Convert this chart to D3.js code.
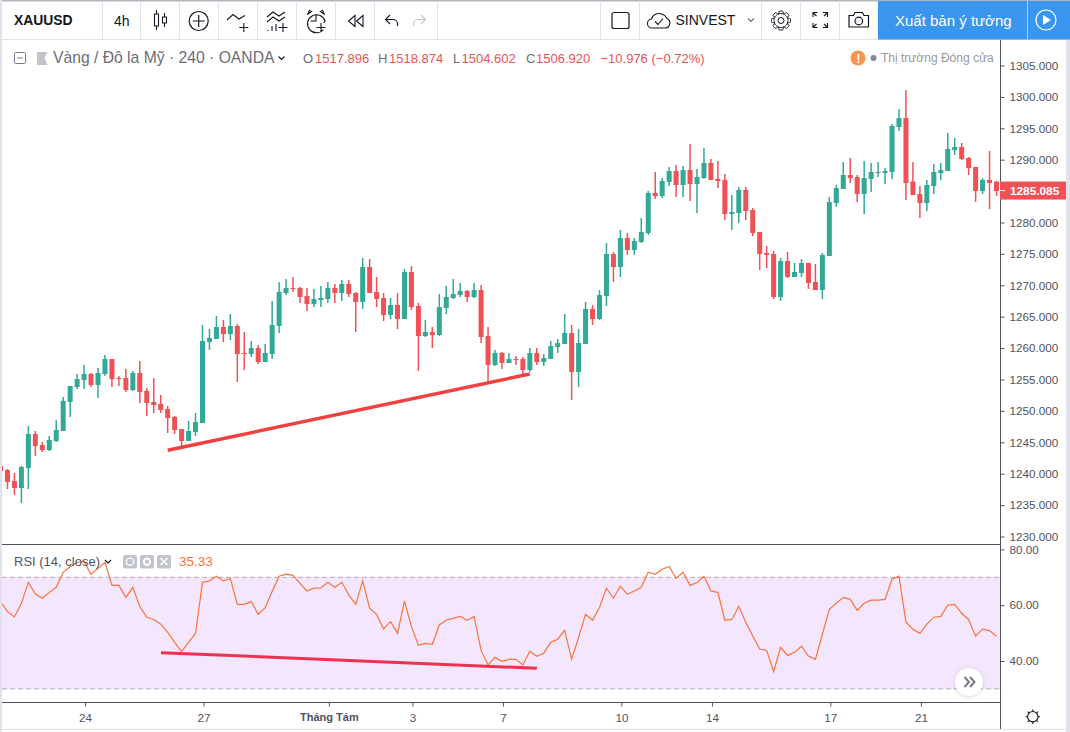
<!DOCTYPE html>
<html>
<head>
<meta charset="utf-8">
<title>XAUUSD</title>
<script src="https://cdn.jsdelivr.net/npm/d3@7"></script>
<style>
  html, body { margin: 0; padding: 0; background: #fff; overflow: hidden; }
  svg { display: block; font-family: "Liberation Sans", Arial, sans-serif; }
</style>
</head>
<body>
<svg id="chart" width="1070" height="732"></svg>
<script>
// candles, one per 4h bar, left to right
const opens = [
  1241.23,1240.59,1238.84,1237.72,1240.91,1246.32,1244.57,1243.77,1245.21,1246.80,
  1251.42,1253.81,1254.92,1255.88,1254.12,1255.88,1258.26,1255.24,1255.24,1253.33,
  1256.04,1253.17,1251.42,1251.10,1250.30,1249.03,1247.12,1245.21,1246.64,1248.07,
  1260.97,1261.45,1263.36,1262.24,1263.52,1259.22,1259.06,1260.01,1257.79,1259.06,
  1263.52,1268.77,1269.57,1269.57,1268.30,1267.02,1267.66,1267.82,1269.57,1268.77,
  1270.21,1268.77,1267.34,1272.91,1268.93,1267.98,1265.27,1266.86,1264.63,1272.12,
  1266.70,1261.93,1262.56,1262.08,1266.38,1267.98,1268.45,1269.09,1268.14,1269.25,
  1261.93,1257.31,1259.22,1257.63,1258.26,1258.26,1256.51,1259.22,1257.79,1258.26,
  1260.17,1260.65,1262.40,1256.19,1260.65,1266.23,1264.63,1268.30,1274.98,1272.91,
  1277.53,1275.62,1276.90,1278.33,1284.70,1284.22,1286.45,1288.20,1285.97,1288.36,
  1286.13,1287.09,1289.48,1286.93,1286.77,1281.35,1281.51,1285.18,1281.99,1278.49,
  1275.14,1274.98,1268.14,1273.87,1271.32,1271.96,1273.55,1270.52,1269.25,1274.66,
  1283.10,1285.33,1287.56,1287.24,1284.54,1286.93,1287.88,1287.88,1288.04,1295.21,
  1296.64,1286.52,1284.54,1283.10,1285.81,1287.88,1288.20,1291.54,1292.02,1290.27,
  1288.84,1285.01,1286.77,1286.52];
const highs = [
  1241.30,1240.75,1240.11,1241.23,1247.60,1246.80,1245.05,1246.00,1248.55,1252.21,
  1253.97,1255.88,1257.31,1256.04,1256.83,1258.90,1258.26,1255.56,1256.67,1256.35,
  1257.95,1253.65,1255.24,1252.53,1250.78,1249.19,1247.12,1248.39,1249.67,1263.68,
  1263.04,1265.11,1264.47,1265.43,1263.84,1262.56,1261.13,1260.49,1260.65,1267.50,
  1270.52,1271.00,1271.32,1269.73,1269.57,1269.41,1269.89,1270.52,1270.21,1270.84,
  1270.84,1268.93,1274.35,1274.19,1271.32,1268.77,1267.98,1268.77,1272.59,1273.07,
  1267.18,1264.47,1263.36,1268.61,1269.89,1271.00,1270.37,1269.25,1270.37,1270.05,
  1263.36,1259.70,1259.38,1259.22,1258.74,1258.58,1260.01,1260.01,1259.06,1261.13,
  1261.45,1265.43,1263.68,1263.04,1267.34,1266.86,1269.25,1276.74,1275.30,1278.81,
  1278.33,1277.53,1280.72,1285.02,1288.04,1287.09,1288.84,1289.16,1289.00,1292.50,
  1288.52,1291.86,1290.11,1289.79,1287.72,1284.38,1285.65,1285.65,1282.31,1278.49,
  1276.26,1275.46,1274.35,1275.30,1273.55,1274.19,1273.55,1273.39,1275.14,1284.06,
  1285.97,1289.63,1290.27,1287.56,1289.79,1289.47,1289.63,1288.68,1295.68,1298.07,
  1301.10,1289.63,1285.81,1286.77,1289.31,1289.47,1294.25,1293.45,1292.66,1290.43,
  1288.84,1287.08,1291.38,1286.61];
const lows = [
  1240.40,1237.56,1236.61,1235.33,1237.56,1242.82,1243.46,1243.61,1245.05,1246.80,
  1249.03,1253.49,1253.49,1253.81,1252.05,1255.56,1253.81,1253.97,1253.01,1253.17,
  1251.26,1249.19,1249.67,1249.67,1246.48,1246.32,1243.93,1245.21,1246.00,1248.07,
  1259.70,1261.45,1260.97,1261.29,1254.60,1256.51,1258.58,1257.47,1257.79,1258.26,
  1262.40,1268.45,1268.93,1267.18,1265.91,1266.54,1266.54,1267.18,1267.18,1267.50,
  1268.14,1262.56,1266.23,1268.77,1266.54,1264.31,1264.63,1263.04,1264.63,1266.07,
  1256.35,1261.77,1260.01,1261.93,1265.43,1267.82,1268.14,1267.34,1267.98,1260.81,
  1254.60,1257.15,1256.67,1257.63,1257.31,1255.72,1256.19,1257.31,1257.15,1258.26,
  1259.22,1260.65,1251.73,1253.80,1260.65,1263.68,1264.47,1266.70,1270.53,1271.32,
  1274.83,1274.83,1276.74,1278.01,1283.74,1283.90,1285.81,1284.06,1284.06,1283.42,
  1281.51,1286.93,1286.77,1285.49,1280.40,1278.81,1279.92,1280.40,1277.85,1272.44,
  1272.76,1267.82,1267.50,1271.16,1271.32,1271.32,1269.41,1269.25,1267.82,1274.66,
  1282.47,1285.33,1286.29,1283.26,1281.35,1284.86,1287.24,1286.13,1286.93,1294.57,
  1283.58,1284.38,1280.72,1281.83,1284.54,1286.77,1288.20,1290.75,1289.95,1287.56,
  1283.26,1284.54,1282.15,1284.22];
const closes = [
  1240.43,1238.68,1237.72,1241.07,1246.32,1244.41,1243.77,1245.37,1246.96,1251.58,
  1253.97,1255.08,1255.88,1254.12,1256.04,1258.26,1255.08,1255.08,1253.33,1256.04,
  1253.01,1251.26,1250.94,1250.14,1248.87,1246.96,1245.21,1246.80,1248.23,1261.13,
  1261.61,1263.36,1262.24,1263.52,1259.06,1259.06,1260.01,1257.79,1259.22,1263.68,
  1268.93,1269.57,1269.41,1268.14,1267.02,1267.82,1267.98,1269.57,1268.77,1270.21,
  1268.61,1267.34,1272.91,1268.77,1267.82,1265.27,1266.86,1264.63,1272.12,1266.54,
  1261.93,1262.56,1262.08,1266.54,1268.14,1268.61,1269.09,1268.14,1269.25,1261.77,
  1257.31,1259.22,1257.63,1258.26,1258.20,1256.51,1259.22,1257.79,1258.42,1260.33,
  1260.81,1262.40,1256.19,1260.81,1266.23,1264.63,1268.45,1274.98,1272.91,1277.53,
  1275.62,1277.05,1278.49,1284.70,1284.22,1286.61,1288.20,1285.97,1288.36,1286.13,
  1287.25,1289.48,1286.77,1286.61,1281.35,1281.67,1285.18,1281.83,1278.33,1274.98,
  1274.83,1268.14,1273.87,1271.32,1272.12,1273.55,1270.37,1269.25,1274.82,1283.26,
  1285.49,1287.56,1287.08,1284.54,1287.08,1288.04,1288.04,1288.20,1295.37,1296.64,
  1286.29,1284.38,1283.10,1285.97,1288.04,1288.36,1291.70,1292.02,1290.11,1288.68,
  1285.01,1286.77,1286.29,1285.01];

// RSI (14, close), one value per bar
const rsiValues = [
  61.3,57.7,55.8,60.7,68.2,64.0,62.5,64.6,66.4,71.8,
  73.8,75.4,75.6,71.1,73.2,75.4,67.1,67.1,62.8,66.4,
  59.5,55.7,54.9,53.2,50.3,46.7,43.4,46.7,49.9,68.2,
  68.7,70.4,68.7,69.6,60.3,60.3,61.3,56.7,59.1,64.9,
  70.4,71.1,70.7,67.8,65.1,66.1,66.2,68.2,66.4,68.2,
  63.7,60.3,68.7,58.9,56.7,51.5,54.1,49.9,61.5,52.3,
  45.6,46.3,46.0,52.9,54.6,55.3,56.0,54.6,56.0,43.8,
  38.6,41.3,39.9,40.6,40.6,38.6,43.5,41.7,42.8,46.7,
  47.8,51.0,40.6,48.5,56.7,54.6,59.2,66.1,62.5,66.8,
  63.9,65.1,66.4,71.8,71.1,72.9,73.9,69.6,71.8,67.1,
  68.1,70.4,65.1,64.6,54.6,54.9,59.6,53.9,49.0,44.3,
  43.8,36.2,44.9,42.0,43.1,45.3,41.8,40.6,49.6,58.5,
  60.7,62.8,62.1,58.2,60.7,61.8,61.8,62.1,69.3,70.4,
  53.9,51.4,49.9,53.2,55.7,56.0,60.0,60.3,57.1,54.9,
  48.9,51.4,50.9,48.9];

const priceTicks = [1305,1300,1295,1290,1280,1275,1270,1265,1260,1255,1250,1245,1240,1235,1230];
const rsiTicks = [80,60,40];
const rsiBands = [70,30];
const timeBars = [12,29,47,59,72,89,102,119,132];
const timeLabels = ["24","27","Tháng Tám","3","7","10","14","17","21"];

// hand drawn trend lines, [bar, value]
const priceTrend = [[24,1243.73],[76,1255.88]];
const rsiTrend = [[23.04,43.0],[77,37.4]];

const lastPrice = 1285.085;
const lastPriceLabel = "1285.085";
const rsiLabel = "35.33";

const upColor = "#32a897", downColor = "#ef5155";
const textColor = "#131722", axisColor = "#50535e", sepColor = "#e0e3eb";
const rsiColor = "#f9743c", bandColor = "#f4e6fc";

const svg = d3.select("#chart");

const x = d3.scaleLinear().domain([0,143]).range([0.5,996.5]);
const yPrice = d3.scaleLinear().domain([1305,1230]).range([65.5,536.5]);
const yRsi = d3.scaleLinear().domain([70,30]).range([577.3,688.9]);

svg.append("clipPath").attr("id","clipMain").append("rect").attr("x",2).attr("y",40).attr("width",998).attr("height",504);
svg.append("clipPath").attr("id","clipRsi").append("rect").attr("x",2).attr("y",545).attr("width",998).attr("height",157);

// ---- main pane ----
const candles = svg.append("g").attr("clip-path","url(#clipMain)");
const bars = d3.range(opens.length);
const barColor = function(i){ return closes[i] >= opens[i] ? upColor : downColor; };

candles.selectAll("line.wick").data(bars).enter().append("line")
  .attr("class","wick")
  .attr("x1",function(i){ return x(i); })
  .attr("x2",function(i){ return x(i); })
  .attr("y1",function(i){ return yPrice(highs[i]); })
  .attr("y2",function(i){ return yPrice(lows[i]); })
  .attr("stroke",barColor)
  .attr("stroke-width",1.5);

candles.selectAll("rect.body").data(bars).enter().append("rect")
  .attr("class","body")
  .attr("x",function(i){ return x(i)-2.5; })
  .attr("width",5)
  .attr("y",function(i){ return yPrice(Math.max(opens[i],closes[i])); })
  .attr("height",function(i){ return Math.max(1,Math.abs(yPrice(opens[i])-yPrice(closes[i]))); })
  .attr("fill",barColor);

candles.append("line")
  .attr("x1",x(priceTrend[0][0])).attr("y1",yPrice(priceTrend[0][1]))
  .attr("x2",x(priceTrend[1][0])).attr("y2",yPrice(priceTrend[1][1]))
  .attr("stroke","#f23f3f").attr("stroke-width",3.4);

// ---- rsi pane ----
const rsiPane = svg.append("g").attr("clip-path","url(#clipRsi)");
rsiPane.append("rect")
  .attr("x",2).attr("width",998)
  .attr("y",yRsi(rsiBands[0]))
  .attr("height",yRsi(rsiBands[1])-yRsi(rsiBands[0]))
  .attr("fill",bandColor);
rsiPane.selectAll("line.band").data(rsiBands).enter().append("line")
  .attr("x1",2).attr("x2",1000)
  .attr("y1",function(d){ return yRsi(d); })
  .attr("y2",function(d){ return yRsi(d); })
  .attr("stroke","#b5a9bc").attr("stroke-dasharray","5,3");
rsiPane.append("path")
  .attr("d",d3.line().x(function(d,i){ return x(i); }).y(function(d){ return yRsi(d); })(rsiValues))
  .attr("fill","none").attr("stroke",rsiColor).attr("stroke-width",1.2);
rsiPane.append("line")
  .attr("x1",x(rsiTrend[0][0])).attr("y1",yRsi(rsiTrend[0][1]))
  .attr("x2",x(rsiTrend[1][0])).attr("y2",yRsi(rsiTrend[1][1]))
  .attr("stroke","#ea3350").attr("stroke-width",3);

// ---- axes ----
function styleAxis(g){
  g.select(".domain").remove();
  g.selectAll(".tick line").attr("stroke",axisColor);
  g.selectAll(".tick text").attr("fill",axisColor).style("font-size","11.7px").style("font-family","Liberation Sans, Arial, sans-serif");
}
svg.append("g").attr("transform","translate(1000.5,0)")
  .call(d3.axisRight(yPrice).tickValues(priceTicks).tickFormat(d3.format(".3f")).tickSize(4).tickPadding(5))
  .call(styleAxis);
svg.append("g").attr("transform","translate(1000.5,0)")
  .call(d3.axisRight(yRsi).tickValues(rsiTicks).tickFormat(d3.format(".2f")).tickSize(4).tickPadding(5))
  .call(styleAxis);
const timeAxis = svg.append("g").attr("transform","translate(1,702.5)")
  .call(d3.axisBottom(x).tickValues(timeBars).tickFormat(function(d,i){ return timeLabels[i]; }).tickSize(4).tickPadding(7))
  .call(styleAxis);
timeAxis.selectAll(".tick text").style("font-weight",function(d,i){ return timeLabels[i]=="Tháng Tám" ? "bold" : "normal"; })
  .style("font-size",function(d,i){ return timeLabels[i]=="Tháng Tám" ? "11px" : "11.7px"; });

// pane frame lines
svg.append("line").attr("x1",0).attr("x2",1000).attr("y1",544.5).attr("y2",544.5).attr("stroke",axisColor);
svg.append("line").attr("x1",0).attr("x2",1000).attr("y1",702.5).attr("y2",702.5).attr("stroke",axisColor);
svg.append("line").attr("x1",1000.5).attr("x2",1000.5).attr("y1",40).attr("y2",729).attr("stroke",axisColor);

// last price tag
const tagY = yPrice(lastPrice);
svg.append("rect").attr("x",1000).attr("y",tagY-9).attr("width",66).attr("height",18).attr("fill",downColor);
svg.append("line").attr("x1",1000).attr("x2",1005).attr("y1",tagY).attr("y2",tagY).attr("stroke","#fff");
svg.append("text").attr("x",1010).attr("y",tagY+4.5).attr("fill","#fff").style("font-size","11.8px").style("font-weight","bold").text(lastPriceLabel);

// ---- toolbar and page chrome ----
svg.append("rect").attr("x",0).attr("y",0).attr("width",1070).attr("height",1.5).attr("fill","#b2b5be");
svg.append("line").attr("x1",0).attr("x2",1070).attr("y1",39.5).attr("y2",39.5).attr("stroke",sepColor);
svg.append("rect").attr("x",0).attr("y",0).attr("width",2).attr("height",732).attr("fill",sepColor);
svg.append("rect").attr("x",1066).attr("y",40).attr("width",4).attr("height",692).attr("fill",sepColor);
svg.append("line").attr("x1",0).attr("x2",1066).attr("y1",729.5).attr("y2",729.5).attr("stroke",sepColor);

const separators = [102.5,140.5,179.5,218.5,257.5,296.5,335.5,374.5,437.5,600.5,639.5,761.5,800.5,839.5];
svg.selectAll("line.sep").data(separators).enter().append("line")
  .attr("x1",function(d){ return d; }).attr("x2",function(d){ return d; })
  .attr("y1",1).attr("y2",39).attr("stroke",sepColor);

svg.append("rect").attr("x",878).attr("y",1).attr("width",192).attr("height",38.5).attr("fill","#3a95ee");
svg.append("line").attr("x1",1027.5).attr("x2",1027.5).attr("y1",1).attr("y2",39).attr("stroke","#a8d0f7");

function label(txt,px,py,size,color,weight){
  return svg.append("text").attr("x",px).attr("y",py).attr("fill",color)
    .style("font-size",size+"px").style("font-weight",weight||"normal").text(txt);
}
function icon(d,color,sw){
  return svg.append("path").attr("d",d).attr("fill","none")
    .attr("stroke",color||textColor).attr("stroke-width",sw||1.1);
}

label("XAUUSD",14,25,13.9,textColor,"bold");
label("4h",114,25.5,14,textColor);
label("SINVEST",675.5,25,14,textColor);
label("Xuất bản ý tưởng",895,26,15,"#fff");

// candle type
icon("M156.5 10V14M156.5 26V30M154.5 14H158.5V26H154.5ZM164.5 13V17M164.5 23V27M162.5 17H166.5V23H162.5Z");
// add symbol
icon("M208.2 21a9.5 9.5 0 1 1-19 0a9.5 9.5 0 1 1 19 0M198.7 15V27M192.7 21H204.7",textColor,1.2);
// indicators
icon("M227 20L233 14.5L239 19L245 15.5M243.8 23V32M239.3 27.5H248.3");
icon("M267 17L273 12L279 16L285 12M267 22L273 17L279 21L285 17M283 23V32M278.5 27.5H287.5M268 30V31M272 26V31M276 24V31");
// alarm
icon("M323.5 29.5A9 9 0 1 1 325 20.7A9 9 0 0 1 323.5 23M316 15V21H310.5M307.5 14.5L311.5 11.5L309.5 10.5Z M324.5 14.5L320.5 11.5L322.5 10.5ZM321 23V32M316.5 27.5H325.5");
// rewind
icon("M355 15.5L348.5 21L355 26.5ZM363 15.5L356.5 21L363 26.5Z");
// undo, redo
icon("M390 15L385.5 19.5L390 24M385.5 19.5H393A4.5 4.5 0 0 1 397.5 24V26");
icon("M421 15L425.5 19.5L421 24M425.5 19.5H418A4.5 4.5 0 0 0 413.5 24V26","#c1c4cd");
// layout square
svg.append("rect").attr("x",612).attr("y",12.5).attr("width",17).attr("height",16).attr("rx",2).attr("fill","none").attr("stroke",textColor).attr("stroke-width",1.2);
// cloud
icon("M652.5 28H665.5A5 5 0 0 0 667 18.5A9 9 0 0 0 655 14.5A7 7 0 0 0 651.5 19A4.5 4.5 0 0 0 652.5 28ZM655 21.5L658 24.5L663 18.5");
icon("M748 18.5L751 21.5L754 18.5","#6a6d78");
// settings gear
const gearAngles = d3.range(0,360,45);
svg.selectAll("rect.cog").data(gearAngles).enter().append("rect")
  .attr("class","cog").attr("x",778.8).attr("y",11).attr("width",4.4).attr("height",3.5).attr("rx",1)
  .attr("transform",function(d){ return "rotate("+d+" 781 20.5)"; })
  .attr("fill","#fff").attr("stroke",textColor).attr("stroke-width",0.9);
svg.append("circle").attr("cx",781).attr("cy",20.5).attr("r",7).attr("fill","#fff").attr("stroke","none");
svg.append("path").attr("d",d3.arc()({innerRadius:7,outerRadius:7,startAngle:0,endAngle:6.29})).attr("transform","translate(781,20.5)").attr("fill","none").attr("stroke",textColor).attr("stroke-width",0.9).attr("stroke-dasharray","3,2.5");
svg.append("circle").attr("cx",781).attr("cy",20.5).attr("r",3).attr("fill","#fff").attr("stroke",textColor).attr("stroke-width",1);
// fullscreen
icon("M813 17V12.5H817.5M823 12.5H827.5V17M813 23V27.5H817.5M823 27.5H827.5V23M813 12.5L816.5 16M827.5 12.5L824 16M813 27.5L816.5 24M827.5 27.5L824 24");
// camera
icon("M849 15.5H853.5L855 12.5H862.5L864 15.5H868.5V27H849Z",textColor,1.2);
svg.append("circle").attr("cx",858.8).attr("cy",21).attr("r",3.8).attr("fill","none").attr("stroke",textColor).attr("stroke-width",1.2);
// replay button
svg.append("circle").attr("cx",1046).attr("cy",20).attr("r",10).attr("fill","none").attr("stroke","#fff").attr("stroke-width",1.2);
svg.append("path").attr("d","M1043 15L1051 20L1043 25Z").attr("fill","#fff");

// legend row
svg.append("rect").attr("x",14.5).attr("y",52.5).attr("width",11).attr("height",11).attr("rx",1).attr("fill","none").attr("stroke","#787b86");
svg.append("line").attr("x1",17).attr("x2",23).attr("y1",58).attr("y2",58).attr("stroke","#787b86");
svg.append("path").attr("d","M37 52H47.5L44.5 58L47.5 65H37Z").attr("fill","#c1c4cd");
label("Vàng / Đô la Mỹ · 240 · OANDA",53,63,15.7,"#6a6d78");
icon("M278.5 56.5L281.5 59.5L284.5 56.5",textColor,1.1);

const ohlcLabels = [["O",303,"1517.896",315],["H",378,"1518.874",389],["L",453,"1504.602",461.5],["C",526,"1506.920",536]];
ohlcLabels.forEach(function(d){
  label(d[0],d[1],63,13,"#6a6d78");
  label(d[2],d[3],63,13,downColor);
});
label("−10.976 (−0.72%)",600.5,63,13,downColor);

svg.append("circle").attr("cx",858).attr("cy",58).attr("r",7.5).attr("fill","#f9934e");
label("!",856.3,63,13,"#fff","bold");
svg.append("circle").attr("cx",873.5).attr("cy",58).attr("r",3).attr("fill","#868993");
label("Thị trường Đóng cửa",881,62,12,"#9598a1");

// rsi legend
label("RSI (14, close)",14,566,13,axisColor);
icon("M105 560L108 563L111 560",textColor,1.2);
const rsiButtons = [123,140,157];
svg.selectAll("rect.rsibtn").data(rsiButtons).enter().append("rect")
  .attr("class","rsibtn").attr("x",function(d){ return d; }).attr("y",555).attr("width",14).attr("height",13.5).attr("rx",2).attr("fill","#c1c4cd");
svg.append("circle").attr("cx",130).attr("cy",561.7).attr("r",3.6).attr("fill","none").attr("stroke","#fff").attr("stroke-width",1.4);
svg.append("circle").attr("cx",147).attr("cy",561.7).attr("r",3.2).attr("fill","none").attr("stroke","#fff").attr("stroke-width",2);
icon("M160.5 558L167.5 565M167.5 558L160.5 565","#fff",1.6);
label(rsiLabel,179,566,13.5,rsiColor);

// scroll to latest button
svg.append("circle").attr("cx",969).attr("cy",682).attr("r",14).attr("fill","#fff").style("filter","drop-shadow(0 1px 2px rgba(0,0,0,.15))");
icon("M964.5 677L969 682L964.5 687M970 677L974.5 682L970 687","#787b86",2);

// time scale settings
svg.append("circle").attr("cx",1032.8).attr("cy",716.7).attr("r",5.2).attr("fill","none").attr("stroke",textColor).attr("stroke-width",1.1);
icon("M1032.8 709.5V711.5M1032.8 722V724M1025.6 716.7H1027.6M1038 716.7H1040M1027.7 711.6L1029.1 713M1036.5 720.4L1037.9 721.8M1027.7 721.8L1029.1 720.4M1036.5 713L1037.9 711.6");
</script>
</body>
</html>
